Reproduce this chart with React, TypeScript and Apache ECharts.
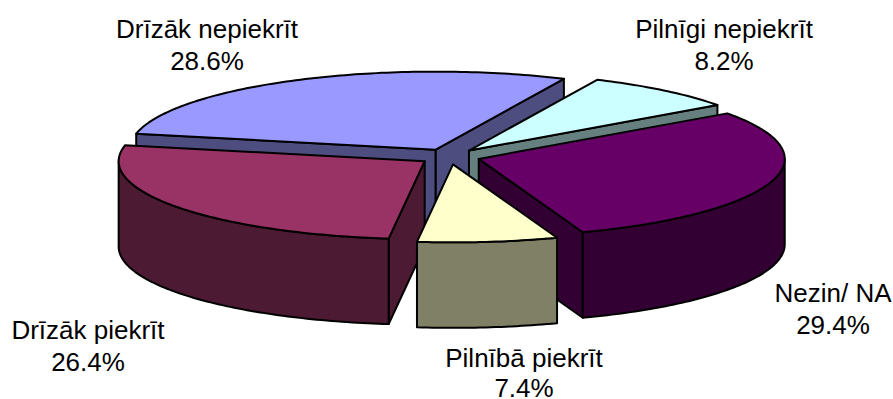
import React, { useEffect, useRef } from "react";
import * as echarts from "echarts";

const categories = ["Drīzāk nepiekrīt", "Pilnīgi nepiekrīt", "Nezin/ NA", "Pilnībā piekrīt", "Drīzāk piekrīt"];
const shares = [28.6, 8.2, 29.4, 7.4, 26.4];
const topColors = ["#9999FF", "#CCFFFF", "#660066", "#FFFFCC", "#993366"];
const sideColors = ["#4D4D80", "#668080", "#330033", "#808066", "#4D1A33"];
const labelCentres = [[207, 45], [724, 45], [833, 309], [524, 373], [88, 346]];

const START_ANGLE = 281.8;
const CX = 449.5;
const CY = 156.6;
const RX = 306;
const RY = 78;
const DEPTH = 85.5;
const EXPLODE = 0.1;
const FONT = "Liberation Sans";
const rad = (d: number) => (d * Math.PI) / 180;

const total = shares.reduce((a, b) => a + b, 0);
const spans = shares.map((s, i) => {
  const before = shares.slice(0, i).reduce((a, b) => a + b, 0);
  const a0 = START_ANGLE + (before / total) * 360;
  return [a0, a0 + (s / total) * 360];
});
const mids = spans.map(([a, b]) => (a + b) / 2);
const drawOrder = shares.map((_, i) => i).sort((p, q) => Math.cos(rad(mids[q])) - Math.cos(rad(mids[p])));

function arcPoints(ox: number, oy: number, a: number, b: number, dy = 0) {
  const pts: number[][] = [];
  const n = Math.max(2, Math.ceil(Math.abs(b - a)));
  for (let k = 0; k <= n; k++) {
    const t = rad(a + ((b - a) * k) / n);
    pts.push([ox + RX * Math.sin(t), oy - RY * Math.cos(t) + dy]);
  }
  return pts;
}

function renderItem(_params: any, api: any) {
  const i = api.value(0) as number;
  const [a0, a1] = spans[i];
  const m = rad(mids[i]);
  const ox = CX + RX * EXPLODE * Math.sin(m);
  const oy = CY - RY * EXPLODE * Math.cos(m);
  const stroke = { stroke: "#000", lineWidth: 2, lineJoin: "round" };
  const side = { ...stroke, fill: sideColors[i] };
  const children: any[] = [];
  const wall = (angle: number) => {
    const t = rad(angle);
    const ex = ox + RX * Math.sin(t);
    const ey = oy - RY * Math.cos(t);
    children.push({
      type: "polygon",
      shape: { points: [[ox, oy], [ex, ey], [ex, ey + DEPTH], [ox, oy + DEPTH]] },
      style: side,
    });
  };
  if (Math.sin(rad(a0)) < 0) wall(a0);
  if (Math.sin(rad(a1)) > 0) wall(a1);
  // outer rim: only the part that faces the viewer (90..270 degrees, also one turn up)
  for (const shift of [0, 360]) {
    const from = Math.max(a0, 90 + shift);
    const to = Math.min(a1, 270 + shift);
    if (to > from) {
      const upper = arcPoints(ox, oy, from, to);
      const lower = arcPoints(ox, oy, to, from, DEPTH);
      children.push({ type: "polygon", shape: { points: [...upper, ...lower] }, style: side });
    }
  }
  children.push({
    type: "polygon",
    shape: { points: [[ox, oy], ...arcPoints(ox, oy, a0, a1)] },
    style: { ...stroke, fill: topColors[i] },
  });
  return { type: "group", children };
}

export default function App() {
  const ref = useRef<HTMLDivElement>(null);
  useEffect(() => {
    document.body.style.margin = "0";
    const chart = echarts.init(ref.current!, undefined, { renderer: "svg" });
    chart.setOption({
      animation: false,
      backgroundColor: "#fff",
      series: [
        {
          type: "custom",
          coordinateSystem: "none",
          renderItem,
          silent: true,
          data: drawOrder.map((i) => ({ name: categories[i], value: [i, shares[i]] })),
        },
      ],
      graphic: categories.map((name, i) => ({
        type: "text",
        x: labelCentres[i][0],
        y: labelCentres[i][1],
        silent: true,
        style: {
          text: `${name}\n${shares[i].toFixed(1)}%`,
          fontFamily: FONT,
          fontSize: 26,
          lineHeight: i === 3 ? 30 : 32,
          fill: "#000",
          align: "center",
          verticalAlign: "middle",
        },
      })),
    });
    return () => chart.dispose();
  }, []);
  return <div ref={ref} style={{ width: 893, height: 399 }} />;
}
